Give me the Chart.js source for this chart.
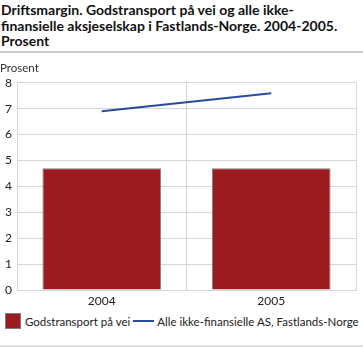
<!DOCTYPE html>
<html>
<head>
<meta charset="utf-8">
<script src="https://cdn.jsdelivr.net/npm/chart.js@4/dist/chart.umd.min.js"></script>
<style>
  body { margin: 0; background: #fff; width: 363px; height: 347px; overflow: hidden; font-family: Lato, sans-serif; color: #222; }
  #title { position: absolute; left: 1px; top: 2px; font-weight: bold; font-size: 14px; line-height: 15.5px; white-space: nowrap; color: #111; }
  .sep { position: absolute; left: 0; width: 363px; height: 2px; background: #cfcfcf; }
  #wrap { position: absolute; left: 0; top: 56px; width: 363px; height: 252px; }
  #legend { position: absolute; left: 5px; top: 313px; font-size: 11.5px; white-space: nowrap; display: flex; align-items: center; }
  .box { display: inline-block; width: 14px; height: 14px; border: 1px solid #7f7f7f; margin-right: 4px; }
  .ln { display: inline-block; width: 21px; height: 2px; margin: 0 3px 0 3px; }
</style>
</head>
<body>
<div id="title">Driftsmargin. Godstransport på vei og alle ikke-<br>finansielle aksjeselskap i Fastlands-Norge. 2004-2005.<br>Prosent</div>
<div class="sep" style="top:51px"></div>
<div id="wrap"><canvas id="c"></canvas></div>
<div id="legend"></div>
<div class="sep" style="top:345px; background:#e0e0e0"></div>
<script>
// data
const years = ["2004", "2005"];
const godstransport = [4.7, 4.7];
const alleAS = [6.9, 7.6];
const barLabel = "Godstransport på vei";
const lineLabel = "Alle ikke-finansielle AS, Fastlands-Norge";
const yUnit = "Prosent";

const red = "#9b1b20";
const blue = "#2c4a9c";
const gridCol = "#d6d6d6";
const font = { family: "Lato, sans-serif", size: 12 };

const chart = new Chart(document.getElementById("c"), {
  data: {
    labels: years,
    datasets: [
      {
        type: "line",
        label: lineLabel,
        data: alleAS,
        borderColor: blue,
        borderWidth: 2,
        pointRadius: 0,
        fill: false,
        order: 0,
      },
      {
        type: "bar",
        label: barLabel,
        data: godstransport,
        backgroundColor: red,
        borderColor: "#7f7f7f",
        borderWidth: 1,
        categoryPercentage: 0.7,
        barPercentage: 1,
        order: 1,
      },
    ],
  },
  options: {
    responsive: true,
    maintainAspectRatio: false,
    animation: false,
    layout: { padding: { left: 0, right: 7, top: 0, bottom: 0 } },
    plugins: {
      legend: { display: false },
      tooltip: { enabled: false },
      title: {
        display: true,
        text: yUnit,
        align: "start",
        color: "#333",
        font: { family: font.family, size: 11.5, weight: "normal" },
        padding: { top: 5, bottom: 8 },
      },
    },
    scales: {
      x: {
        grid: { color: gridCol, offset: true, drawTicks: false },
        border: { color: gridCol },
        ticks: { color: "#222", font: font, padding: 4 },
        afterFit: (s) => { s.height = 18; },
      },
      y: {
        min: 0,
        max: 8,
        grid: { color: gridCol, drawTicks: false },
        border: { color: gridCol },
        ticks: { stepSize: 1, color: "#222", font: font, padding: 5 },
        afterFit: (s) => { s.width = 17; },
      },
    },
  },
});

// legend in html, from the same labels/colours
const leg = document.getElementById("legend");
leg.innerHTML =
  '<span class="box" style="background:' + red + '"></span><span>' + barLabel + "</span>" +
  '<span class="ln" style="background:' + blue + '"></span><span>' + lineLabel + "</span>";
</script>
</body>
</html>
